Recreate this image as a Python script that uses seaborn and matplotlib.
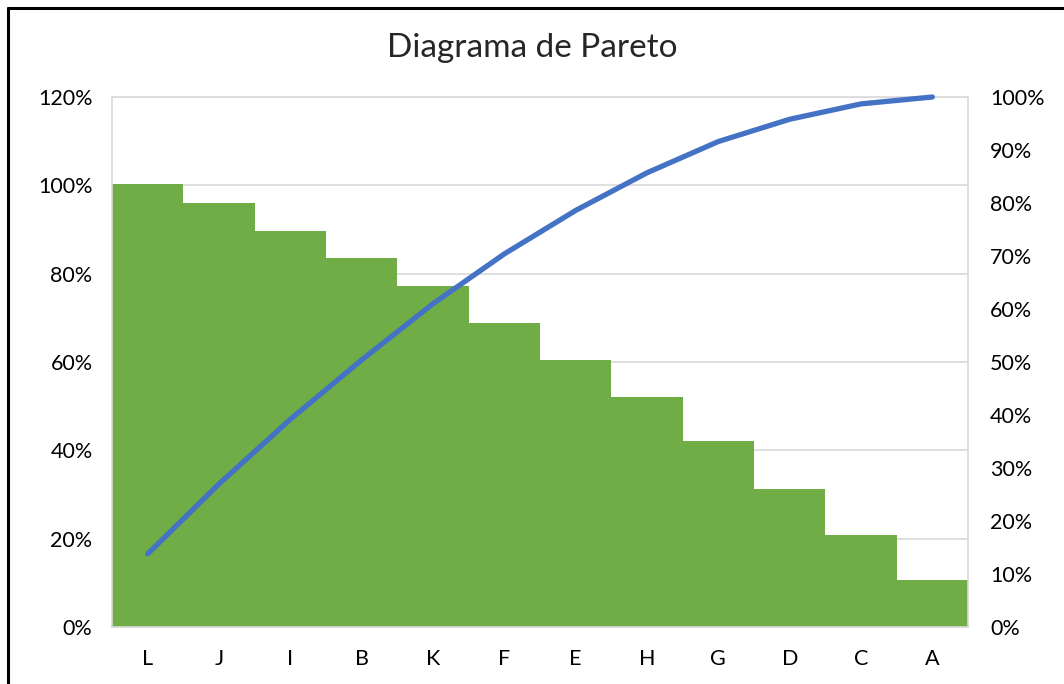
import matplotlib
matplotlib.use("Agg")
import matplotlib.pyplot as plt
from matplotlib.lines import Line2D
from matplotlib.ticker import PercentFormatter
import seaborn as sns
import pandas as pd

# values
categorias = ["L", "J", "I", "B", "K", "F", "E", "H", "G", "D", "C", "A"]
frecuencia = [100.3, 96.0, 89.6, 83.5, 77.2, 68.8, 60.4, 52.1, 42.1, 31.2, 20.8, 10.6]
acumulado = [13.8, 27.0, 39.2, 50.4, 61.0, 70.4, 78.6, 85.7, 91.6, 95.8, 98.7, 100.0]

df = pd.DataFrame({"cat": categorias, "frec": frecuencia, "acum": acumulado})
df["pos"] = range(len(df))

sns.set_style("white")
plt.rcParams["font.family"] = ["Lato", "DejaVu Sans"]

fig = plt.figure(figsize=(10.64, 6.84), dpi=100)
ax = fig.add_axes([0.1053, 0.0833, 0.8045, 0.7749])

sns.barplot(data=df, x="cat", y="frec", color="#70AD47", saturation=1,
            width=1.0, linewidth=0, edgecolor="none", ax=ax, zorder=2)
ax.set_ylim(0, 120)
ax.set_yticks(range(0, 121, 20))
ax.yaxis.set_major_formatter(PercentFormatter(decimals=0))
ax.grid(axis="y", color="#D9D9D9", linewidth=1.2, zorder=0)
ax.set_axisbelow(True)
ax.set_xlabel("")
ax.set_ylabel("")
for s in ax.spines.values():
    s.set_color("#D9D9D9")
    s.set_linewidth(1.2)
ax.tick_params(axis="both", length=0, labelsize=15.5, colors="black", pad=14)
ax.tick_params(axis="x", pad=16)

ax2 = ax.twinx()
sns.lineplot(data=df, x="pos", y="acum", color="#4472C4", linewidth=3.8,
             solid_capstyle="round", clip_on=False, ax=ax2)
ax2.set_ylim(0, 100)
ax2.set_yticks(range(0, 101, 10))
ax2.yaxis.set_major_formatter(PercentFormatter(decimals=0))
ax2.set_ylabel("")
ax2.set_xlim(-0.5, len(categorias) - 0.5)
ax.set_xlim(-0.5, len(categorias) - 0.5)
for s in ax2.spines.values():
    s.set_visible(False)
ax2.tick_params(axis="y", length=0, labelsize=15.5, colors="black", pad=16)

fig.text(0.5, 0.93, "Diagrama de Pareto", ha="center", va="center", fontsize=24)

# outer frame (only top and left visible in the reference)
fig.add_artist(Line2D([0.0075, 0.0075], [0, 0.988], color="black", lw=2.2,
                      transform=fig.transFigure))
fig.add_artist(Line2D([0.0075, 1.0], [0.988, 0.988], color="black", lw=2.2,
                      transform=fig.transFigure))

fig.savefig("out.png", dpi=100)
